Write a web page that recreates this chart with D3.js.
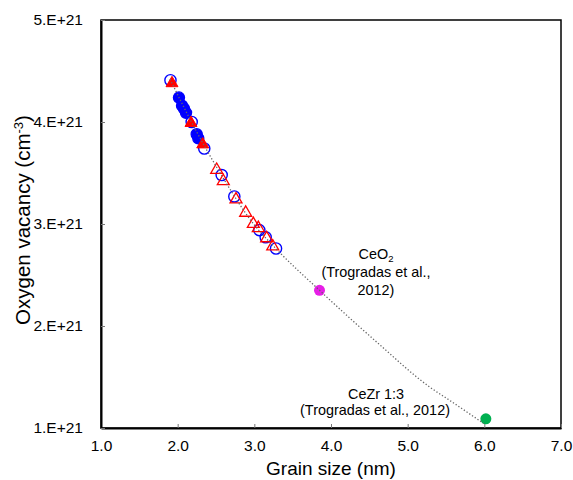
<!DOCTYPE html>
<html>
<head>
<meta charset="utf-8">
<script src="https://cdn.jsdelivr.net/npm/d3@7"></script>
<style>
  html, body { margin: 0; padding: 0; background: #fff; }
  svg { display: block; font-family: "Liberation Sans", Arial, sans-serif; }
</style>
</head>
<body>
<svg id="chart" width="573" height="480"></svg>
<script>
// Grain size (nm) vs oxygen vacancy concentration (cm^-3)
const xTickValues = [1, 2, 3, 4, 5, 6, 7];
const xTickLabels = ["1.0", "2.0", "3.0", "4.0", "5.0", "6.0", "7.0"];
const yTickValues = [1e21, 2e21, 3e21, 4e21, 5e21];
const yTickLabels = ["1.E+21", "2.E+21", "3.E+21", "4.E+21", "5.E+21"];

// open blue circles
const openCircleX = [1.906, 2.183, 2.347, 2.574, 2.739, 3.065, 3.148, 3.283];
const openCircleY = [4.41e21, 4.00e21, 3.74e21, 3.48e21, 3.27e21, 2.94e21, 2.87e21, 2.76e21];
// filled blue circles
const filledCircleX = [2.017, 2.057, 2.083, 2.109, 2.248, 2.269];
const filledCircleY = [4.24e21, 4.16e21, 4.13e21, 4.09e21, 3.88e21, 3.84e21];
// filled red triangles
const filledTriangleX = [1.926, 2.174, 2.327];
const filledTriangleY = [4.38e21, 3.99e21, 3.78e21];
// open red triangles
const openTriangleX = [2.509, 2.595, 2.761, 2.887, 2.987, 3.052, 3.161, 3.240];
const openTriangleY = [3.53e21, 3.42e21, 3.24e21, 3.11e21, 3.00e21, 2.96e21, 2.86e21, 2.78e21];

// literature points
const ceo2X = [3.85];
const ceo2Y = [2.35e21];
const cezrX = [6.02];
const cezrY = [1.09e21];

// dotted trend line
const trendX = [1.90, 2.18, 2.57, 2.99, 3.28, 3.85, 4.60, 5.29, 5.55, 5.99];
const trendY = [4.42e21, 4.00e21, 3.48e21, 3.00e21, 2.76e21, 2.35e21, 1.84e21, 1.40e21, 1.27e21, 1.045e21];

const zip = (xs, ys) => xs.map((x, i) => ({ x, y: ys[i] }));

const svg = d3.select("#chart");
const plotLeft = 101, plotRight = 561, plotTop = 20, plotBottom = 428;

const x = d3.scaleLinear().domain([1, 7]).range([plotLeft, plotRight]);
const y = d3.scaleLinear().domain([1e21, 5e21]).range([plotBottom, plotTop]);

// frame
svg.append("rect")
  .attr("x", plotLeft).attr("y", plotTop)
  .attr("width", plotRight - plotLeft).attr("height", plotBottom - plotTop)
  .attr("fill", "none").attr("stroke", "#000").attr("stroke-width", 1.5);

// x axis
const gx = svg.append("g")
  .attr("transform", `translate(0,${plotBottom})`)
  .call(d3.axisBottom(x)
    .tickValues(xTickValues)
    .tickFormat((d, i) => xTickLabels[i])
    .tickSizeInner(-4).tickSizeOuter(0).tickPadding(12));
gx.select(".domain").attr("stroke", "#000").attr("stroke-width", 2);
gx.selectAll(".tick line").attr("stroke", "#777").attr("stroke-width", 1);
gx.selectAll(".tick text")
  .attr("font-family", "'Liberation Sans', Arial, sans-serif")
  .attr("font-size", 15.5).attr("fill", "#000");

// y axis
const gy = svg.append("g")
  .attr("transform", `translate(${plotLeft},0)`)
  .call(d3.axisLeft(y)
    .tickValues(yTickValues)
    .tickFormat((d, i) => yTickLabels[i])
    .tickSizeInner(-4).tickSizeOuter(0).tickPadding(18));
gy.select(".domain").attr("stroke", "#000").attr("stroke-width", 2);
gy.selectAll(".tick line").attr("stroke", "#777").attr("stroke-width", 1);
gy.selectAll(".tick text")
  .attr("font-family", "'Liberation Sans', Arial, sans-serif")
  .attr("font-size", 15.5).attr("fill", "#000");

// axis titles
svg.append("text")
  .attr("x", (plotLeft + plotRight) / 2).attr("y", 474.5)
  .attr("text-anchor", "middle").attr("font-size", 19)
  .text("Grain size (nm)");

const yt = svg.append("text")
  .attr("transform", `translate(30,${(plotTop + plotBottom) / 2 - 4}) rotate(-90)`)
  .attr("text-anchor", "middle").attr("font-size", 20.5);
yt.append("tspan").text("Oxygen vacancy (cm");
yt.append("tspan").attr("dy", -7).attr("font-size", 13).text("-3");
yt.append("tspan").attr("dy", 7).text(")");

// markers
const blue = "#0000ff", red = "#ff0000";
const tri = d3.symbol().type(d3.symbolTriangle).size(62);

svg.append("g").selectAll("circle")
  .data(zip(filledCircleX, filledCircleY)).join("circle")
  .attr("cx", d => x(d.x)).attr("cy", d => y(d.y)).attr("r", 5.6)
  .attr("fill", blue).attr("stroke", blue).attr("stroke-width", 1.2);

svg.append("g").selectAll("circle")
  .data(zip(openCircleX, openCircleY)).join("circle")
  .attr("cx", d => x(d.x)).attr("cy", d => y(d.y)).attr("r", 5.6)
  .attr("fill", "none").attr("stroke", blue).attr("stroke-width", 1.4);

svg.append("g").selectAll("path")
  .data(zip(filledTriangleX, filledTriangleY)).join("path")
  .attr("transform", d => `translate(${x(d.x)},${y(d.y)})`)
  .attr("d", tri).attr("fill", red).attr("stroke", red).attr("stroke-width", 1);

svg.append("g").selectAll("path")
  .data(zip(openTriangleX, openTriangleY)).join("path")
  .attr("transform", d => `translate(${x(d.x)},${y(d.y)})`)
  .attr("d", tri).attr("fill", "none").attr("stroke", red).attr("stroke-width", 1.3);

svg.append("g").selectAll("circle")
  .data(zip(ceo2X, ceo2Y)).join("circle")
  .attr("cx", d => x(d.x)).attr("cy", d => y(d.y)).attr("r", 5.5)
  .attr("fill", "#e61ee6");

svg.append("g").selectAll("circle")
  .data(zip(cezrX, cezrY)).join("circle")
  .attr("cx", d => x(d.x)).attr("cy", d => y(d.y)).attr("r", 5.5)
  .attr("fill", "#00b050");

// trend line
svg.append("path")
  .datum(zip(trendX, trendY))
  .attr("d", d3.line().x(d => x(d.x)).y(d => y(d.y)).curve(d3.curveMonotoneX))
  .attr("fill", "none").attr("stroke", "#666").attr("stroke-width", 1.3)
  .attr("stroke-dasharray", "1.3,2");

// annotations
const ann = svg.append("g").attr("font-size", 14.4).attr("text-anchor", "middle");
const c1 = ann.append("text").attr("x", 376).attr("y", 258.5);
c1.append("tspan").text("CeO");
c1.append("tspan").attr("dy", 3).attr("font-size", 9.5).text("2");
ann.append("text").attr("x", 376).attr("y", 276.5).text("(Trogradas et al.,");
ann.append("text").attr("x", 376).attr("y", 294.5).text("2012)");
ann.append("text").attr("x", 376).attr("y", 398.5).text("CeZr 1:3");
ann.append("text").attr("x", 375).attr("y", 414.5).text("(Trogradas et al., 2012)");
</script>
</body>
</html>
